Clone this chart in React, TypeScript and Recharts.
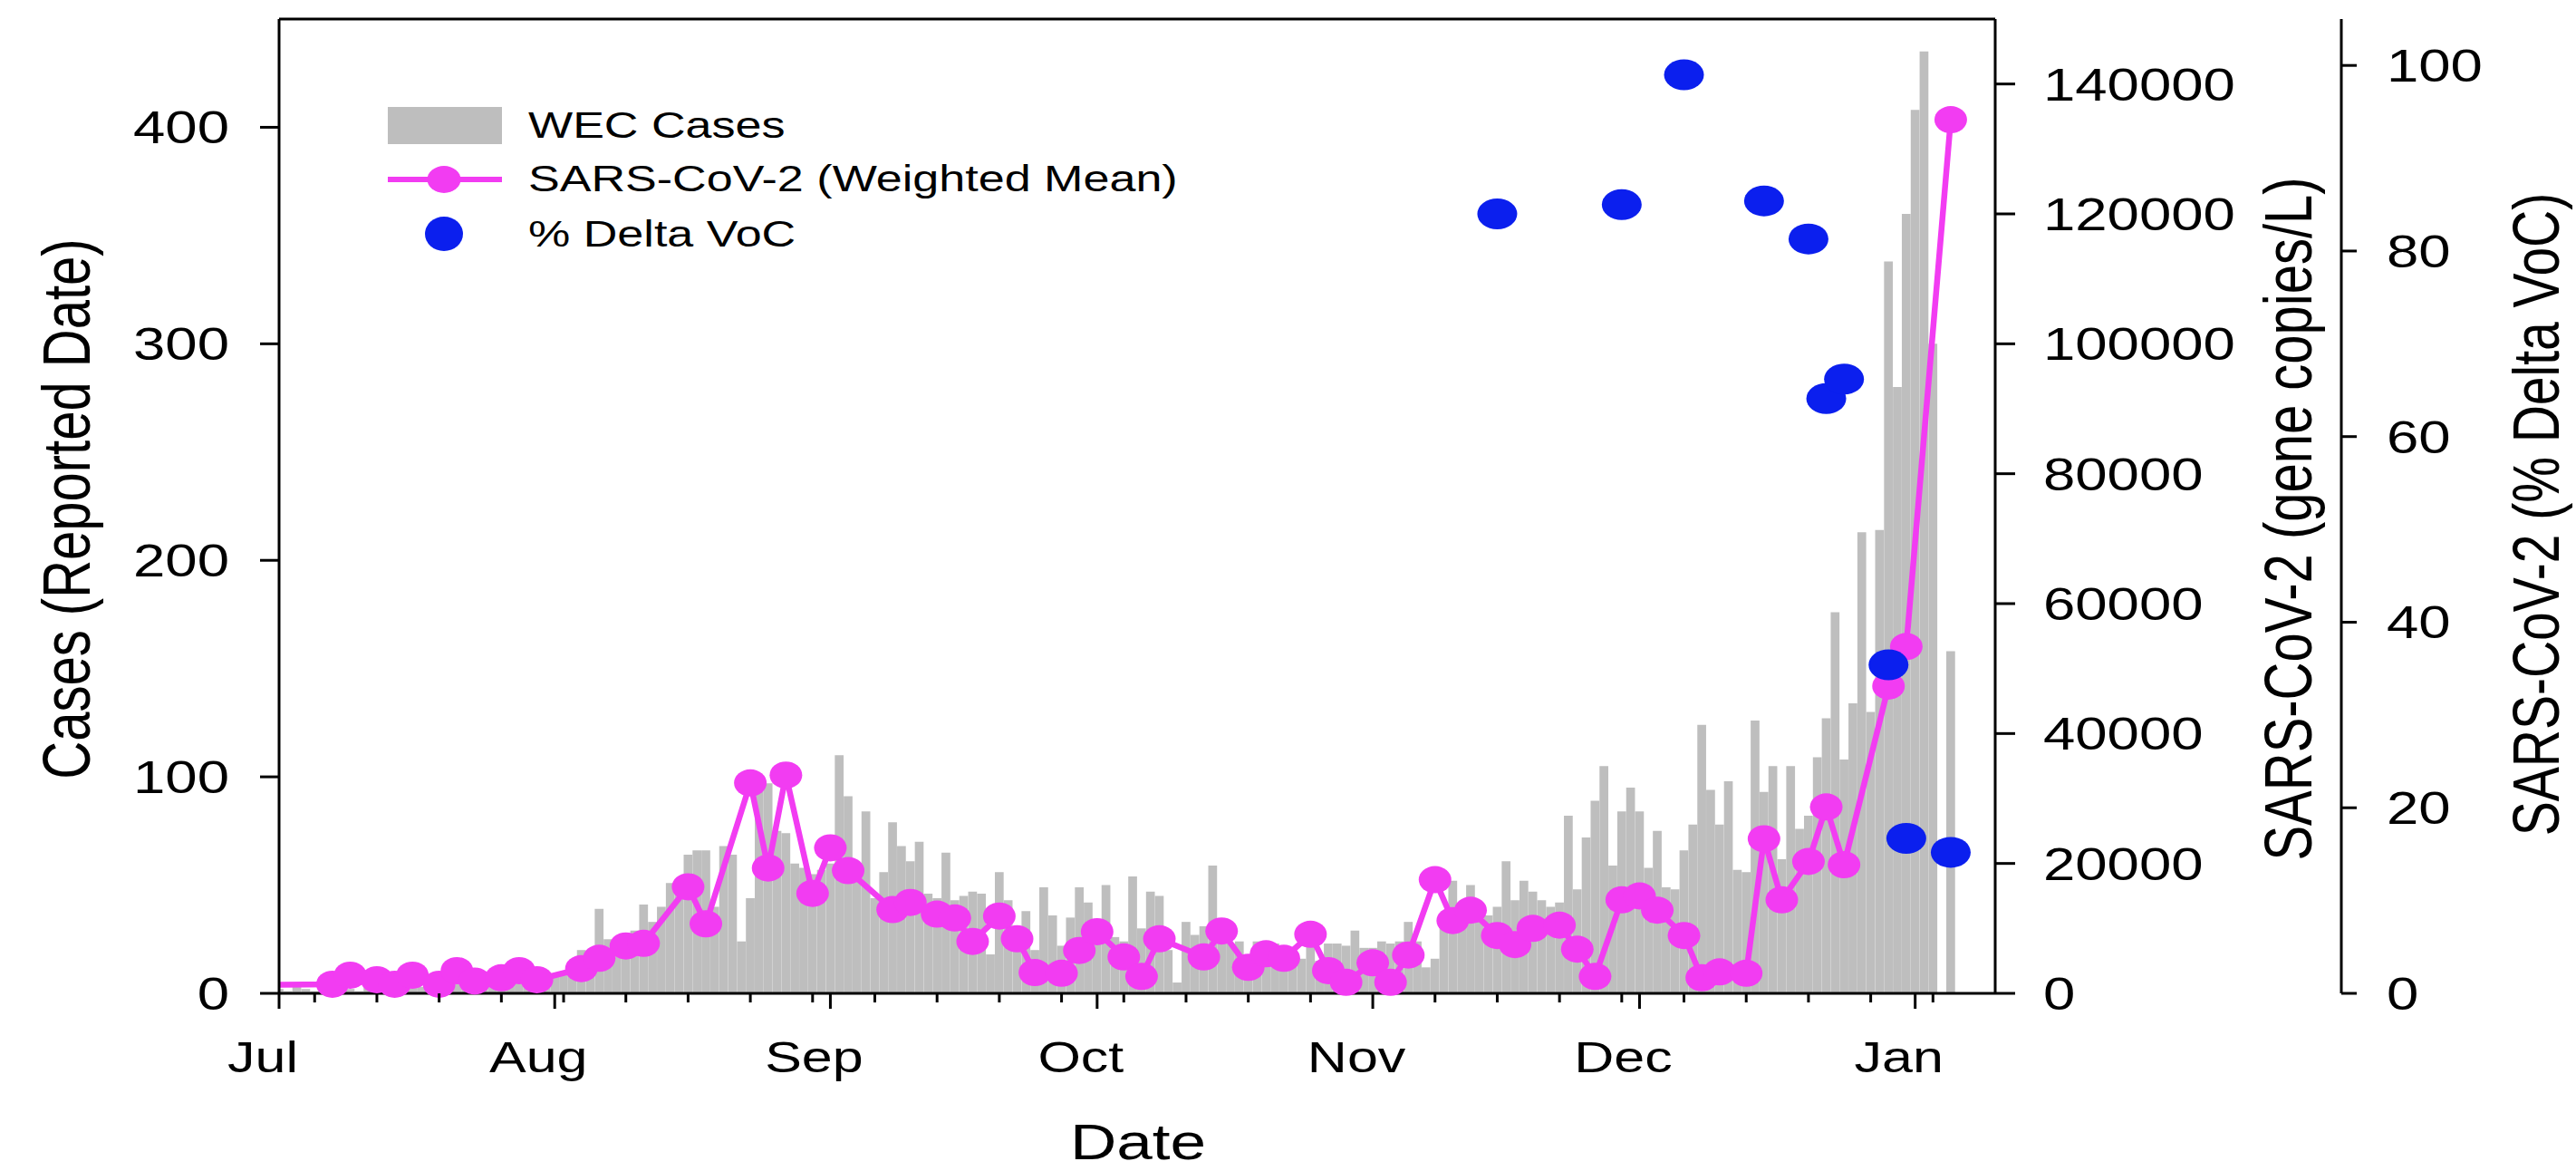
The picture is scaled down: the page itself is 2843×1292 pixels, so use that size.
import React from 'react';
import { ComposedChart, Bar, Line, XAxis, YAxis, ReferenceLine, Legend, Label } from 'recharts';

const FONT = '"Liberation Sans", Arial, Helvetica, sans-serif';
// the source figure is stretched sideways, so all text is widened a bit
const STRETCH = 1.27;
const GRAY = '#BEBEBE';
const PINK = '#F23CF2';
const BLUE = '#0B1FEE';

// daily WEC cases by reported date, day 0 = 1 Jul 2021
const julCases = [2, 1, 3, 2, 1, 2, 4, 3, 2, 1, 3, 2, 4, 3, 2, 5, 3, 2, 4, 3, 5, 4, 3, 6, 4, 3, 5, 6, 4, 7, 6];
const augCases = [8, 10, 14, 20, 18, 39, 25, 24, 27, 29, 41, 33, 40, 51, 50, 64, 66, 66, 40, 68, 64, 24, 44, 95, 97, 75, 74, 60, 58, 55, 57];
const sepCases = [60, 110, 91, 56, 84, 44, 56, 79, 68, 61, 70, 46, 44, 65, 43, 45, 47, 46, 18, 56, 43, 31, 38, 20, 49, 36, 22, 35, 49, 42];
const octCases = [28, 50, 26, 24, 54, 30, 47, 45, 20, 5, 33, 27, 31, 59, 23, 23, 24, 12, 24, 23, 23, 21, 16, 16, 23, 15, 23, 23, 22, 29, 21];
const novCases = [21, 24, 23, 24, 33, 24, 12, 16, 34, 52, 34, 50, 36, 36, 40, 61, 43, 52, 47, 43, 40, 42, 82, 48, 72, 89, 105, 59, 84, 95];
const decCases = [84, 58, 75, 49, 48, 66, 78, 124, 94, 78, 98, 57, 56, 126, 93, 105, 62, 105, 76, 82, 109, 127, 176, 108, 134, 213, 130, 214, 338, 280, 360];
const janCases = [408, 435, 300, 0, 158];

// wastewater SARS-CoV-2, weighted mean (gene copies/L)
const wwDays = [-4, 6, 8, 11, 13, 15, 18, 20, 22, 25, 27, 29, 34, 36, 39, 41, 46, 48, 53, 55, 57, 60, 62, 64, 69, 71, 74, 76, 78, 81, 83, 85, 88, 90, 92, 95, 97, 99, 104, 106, 109, 111, 113, 116, 118, 120, 123, 125, 127, 130, 132, 134, 137, 139, 141, 144, 146, 148, 151, 153, 155, 158, 160, 162, 165, 167, 169, 172, 174, 176, 181, 183, 188];
const wwCopies = [1300, 1400, 2800, 2100, 1400, 2800, 1400, 3500, 1900, 2400, 3500, 2100, 3800, 5400, 7300, 7700, 16400, 10700, 32400, 19300, 33600, 15400, 22400, 18900, 12900, 14000, 12200, 11600, 8000, 11900, 8400, 3200, 3100, 6600, 9500, 5600, 2600, 8400, 5600, 9600, 4000, 6100, 5400, 9100, 3500, 1700, 4700, 1700, 5900, 17500, 11200, 12800, 8900, 7500, 10000, 10500, 6800, 2600, 14400, 15000, 12800, 8900, 2400, 3300, 3100, 23800, 14400, 20300, 28700, 19800, 47300, 53400, 134500];

// % Delta VoC
const vocDays = [137, 151, 158, 167, 172, 174, 176, 181, 183, 188];
const vocPercent = [84, 85, 99, 85.4, 81.3, 64.1, 66.2, 35.4, 16.7, 15.2];

const monthStarts = [0, 31, 62, 92, 123, 153, 184];
const monthLabels = ['Jul', 'Aug', 'Sep', 'Oct', 'Nov', 'Dec', 'Jan'];
const weekTicks = [4, 11, 18, 25, 32, 39, 46, 53, 60, 67, 74, 81, 88, 95, 102, 109, 116, 130, 137, 144, 151, 158, 165, 172, 179, 186];

const caseTicks = [0, 100, 200, 300, 400];
const copiesTicks = [0, 20000, 40000, 60000, 80000, 100000, 120000, 140000];
const vocTicks = [0, 20, 40, 60, 80, 100];

type Row = { day: number; cases: number | null; copies: number | null; voc: number | null };

const dailyCases = [...julCases, ...augCases, ...sepCases, ...octCases, ...novCases, ...decCases, ...janCases];
const rowMap = new Map<number, Row>();
const rowFor = (day: number) => {
  if (!rowMap.has(day)) rowMap.set(day, { day, cases: null, copies: null, voc: null });
  return rowMap.get(day)!;
};
dailyCases.forEach((v, i) => { rowFor(i).cases = v; });
wwDays.forEach((d, i) => { rowFor(d).copies = wwCopies[i]; });
vocDays.forEach((d, i) => { rowFor(d).voc = vocPercent[i]; });
const rows = [...rowMap.values()].sort((a, b) => a.day - b.day);

const xTicks = [...monthStarts, ...weekTicks].sort((a, b) => a - b);

function SText({ x, y, size, anchor = 'middle', rotate = false, dy, children }: any) {
  const t = rotate
    ? `translate(${x},${y}) rotate(-90) scale(1,${STRETCH})`
    : `translate(${x},${y}) scale(${STRETCH},1)`;
  return (
    <text transform={t} textAnchor={anchor} fontSize={size} fontFamily={FONT} fill="#000" dy={dy}>
      {children}
    </text>
  );
}

const DateTick = (p: any) => {
  const m = monthStarts.indexOf(p.payload.value);
  return (
    <g>
      <line x1={p.x} x2={p.x} y1={p.y} y2={p.y + (m >= 0 ? 17 : 10)} stroke="#000" strokeWidth={3} />
      {m >= 0 && <SText x={p.x - 18} y={p.y + 87} size={48}>{monthLabels[m]}</SText>}
    </g>
  );
};

const leftTick = (p: any) => (
  <SText x={p.x} y={p.y} size={50} anchor="end" dy="0.36em">{p.payload.value}</SText>
);
const rightTick = (p: any) => (
  <SText x={p.x} y={p.y} size={50} anchor="start" dy="0.36em">{p.payload.value}</SText>
);

const pinkDot = (p: any) => {
  if (p.cy == null || p.value == null || p.payload.day < 0) return <g key={`p${p.index}`} />;
  return <ellipse key={`p${p.index}`} cx={p.cx} cy={p.cy} rx={18} ry={15} fill={PINK} />;
};
const blueDot = (p: any) => {
  if (p.cy == null || p.value == null) return <g key={`b${p.index}`} />;
  return <ellipse key={`b${p.index}`} cx={p.cx} cy={p.cy} rx={22} ry={17} fill={BLUE} />;
};

const LegendBox = () => (
  <svg width={1400} height={300}>
    <rect x={428} y={118} width={126} height={41} fill={GRAY} />
    <SText x={583} y={152} size={41} anchor="start">WEC Cases</SText>
    <line x1={428} x2={554} y1={198} y2={198} stroke={PINK} strokeWidth={6} />
    <ellipse cx={490} cy={198} rx={18.5} ry={15} fill={PINK} />
    <SText x={583} y={211} size={41} anchor="start">SARS-CoV-2 (Weighted Mean)</SText>
    <ellipse cx={490} cy={258} rx={21} ry={19} fill={BLUE} />
    <SText x={583} y={272} size={41} anchor="start">% Delta VoC</SText>
  </svg>
);

const axisStroke = { stroke: '#000', strokeWidth: 3 };

export default function App() {
  return (
    <div style={{ position: 'absolute', left: 0, top: 0, width: 2843, height: 1292, background: '#fff' }}>
      <ComposedChart
        width={2843}
        height={1292}
        data={rows}
        margin={{ top: 21, right: 0, bottom: 0, left: 0 }}
      >
        <XAxis
          dataKey="day"
          type="number"
          domain={[0, 193]}
          allowDataOverflow
          ticks={xTicks}
          interval={0}
          tick={DateTick}
          tickLine={false}
          tickSize={0}
          tickMargin={0}
          height={196}
          axisLine={axisStroke}
        >
          <Label
            content={(props: any) => {
              const vb = props.viewBox || { x: 308, y: 1096, width: 1894, height: 196 };
              return <SText x={vb.x + vb.width / 2 + 1} y={vb.y + 183} size={56}>Date</SText>;
            }}
          />
        </XAxis>
        <YAxis
          yAxisId="cases"
          domain={[0, 450]}
          ticks={caseTicks}
          width={308}
          tickSize={21}
          tickMargin={34}
          tickLine={axisStroke}
          axisLine={axisStroke}
          tick={leftTick}
        >
          <Label
            content={(props: any) => {
              const vb = props.viewBox || { x: 0, y: 21, width: 308, height: 1075 };
              return (
                <SText rotate x={vb.x + 72} y={vb.y + vb.height / 2 + 3} size={58} dy="0.36em">
                  Cases (Reported Date)
                </SText>
              );
            }}
          />
        </YAxis>
        <YAxis
          yAxisId="copies"
          orientation="right"
          domain={[0, 150000]}
          ticks={copiesTicks}
          width={382}
          tickSize={22}
          tickMargin={31}
          tickLine={axisStroke}
          axisLine={axisStroke}
          tick={rightTick}
        >
          <Label
            content={(props: any) => {
              const vb = props.viewBox || { x: 2202, y: 21, width: 382, height: 1075 };
              return (
                <SText rotate x={vb.x + 322} y={vb.y + vb.height / 2 + 14} size={58} dy="0.36em">
                  SARS-CoV-2 (gene copies/L)
                </SText>
              );
            }}
          />
        </YAxis>
        <YAxis
          yAxisId="voc"
          orientation="right"
          domain={[0, 105]}
          ticks={vocTicks}
          width={259}
          tickSize={17}
          tickMargin={33}
          tickLine={axisStroke}
          axisLine={axisStroke}
          tick={rightTick}
        >
          <Label
            content={(props: any) => {
              const vb = props.viewBox || { x: 2584, y: 21, width: 259, height: 1075 };
              return (
                <SText rotate x={vb.x + 214} y={vb.y + vb.height / 2 + 9} size={57} dy="0.36em">
                  SARS-CoV-2 (% Delta VoC)
                </SText>
              );
            }}
          />
        </YAxis>
        <ReferenceLine yAxisId="cases" y={450} stroke="#000" strokeWidth={3} />
        <Bar yAxisId="cases" dataKey="cases" fill={GRAY} barSize={9.7} isAnimationActive={false} />
        <Line
          yAxisId="copies"
          dataKey="copies"
          type="linear"
          stroke={PINK}
          strokeWidth={6.5}
          connectNulls
          dot={pinkDot}
          activeDot={false}
          isAnimationActive={false}
        />
        <Line
          yAxisId="voc"
          dataKey="voc"
          stroke="none"
          dot={blueDot}
          activeDot={false}
          isAnimationActive={false}
        />
        <Legend
          verticalAlign="middle"
          align="center"
          layout="horizontal"
          wrapperStyle={{ left: 0, top: 0, width: 1400, height: 300 }}
          content={() => <LegendBox />}
        />
      </ComposedChart>
    </div>
  );
}
